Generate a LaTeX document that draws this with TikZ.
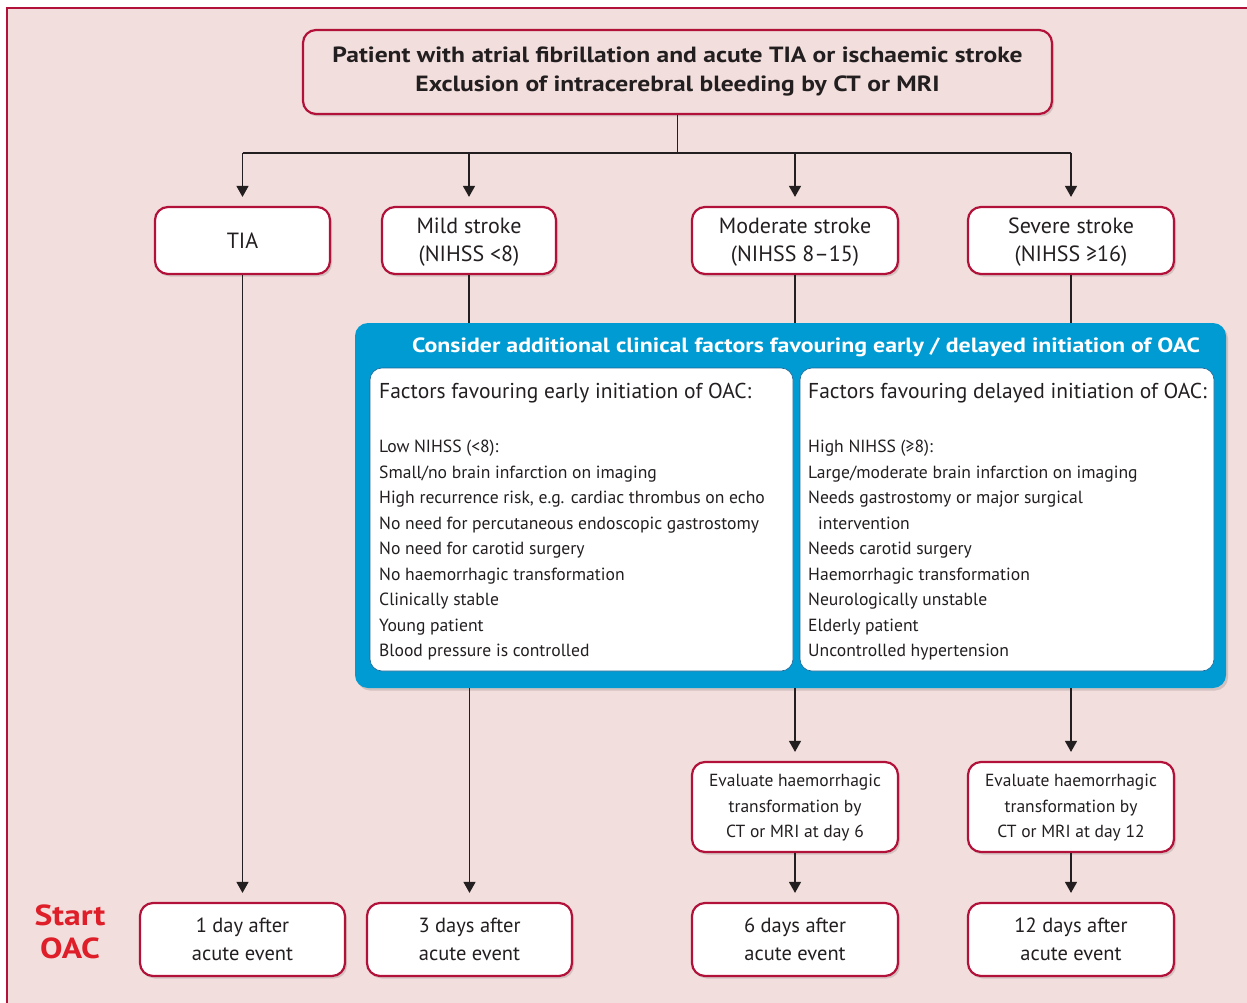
\documentclass[tikz,border=0pt]{standalone}
\usepackage{fontspec}
\setmainfont{PT Sans}
\newfontfamily\widebold[FakeStretch=1.16]{PT Sans}
\usetikzlibrary{shadows,arrows.meta}

\definecolor{bgpink}{RGB}{242,222,220}
\definecolor{crimson}{RGB}{178,18,58}
\definecolor{oacblue}{RGB}{0,155,210}
\definecolor{innerline}{RGB}{30,100,150}
\definecolor{ink}{RGB}{35,31,32}
\definecolor{startred}{RGB}{222,30,40}

\tikzset{
  softshadow/.style={drop shadow={shadow xshift=2pt, shadow yshift=-2.5pt, opacity=0.13, fill=black}},
  redbox/.style={draw=crimson, line width=2.2pt, rounded corners=13pt, fill=white,
    text=ink, align=center, inner sep=0pt, softshadow},
  inbox/.style={draw=innerline, line width=0.6pt, rounded corners=12pt, fill=white,
    inner sep=0pt},
  conn/.style={draw=ink, line width=1.3pt},
  arr/.style={conn, -{Triangle[length=11pt,width=12pt]}, shorten >=9pt},
  listtext/.style={text=ink, align=left, anchor=base west, inner sep=0pt,
    font=\fontsize{17.6}{25.5}\selectfont},
  headtext/.style={text=ink, anchor=base west, inner sep=0pt,
    font=\fontsize{21.5}{26}\selectfont},
  bigtext/.style={font=\fontsize{22}{28.5}\selectfont, text depth=1.5pt},
  daytext/.style={font=\fontsize{20.5}{28.5}\selectfont},
  evaltext/.style={font=\fontsize{17.5}{25.5}\selectfont, text depth=2pt},
}

\begin{document}
\begin{tikzpicture}[x=1pt, y=-1pt]
\useasboundingbox (0,0) rectangle (1247,1003);

% framed background panel
\fill[bgpink] (7,8) rectangle (1260,1015);
\draw[crimson, line width=1.5pt] (7,1015) -- (7,8) -- (1260,8);

% top box
\node[redbox, fill=bgpink, minimum width=749pt, minimum height=84pt,
      font=\fontsize{22}{29}\widebold\bfseries] (top) at (677.5,72)
  {Patient with atrial fibrillation and acute TIA or ischaemic stroke\\
   Exclusion of intracerebral bleeding by CT or MRI};

% severity boxes
\node[redbox, minimum width=175pt, minimum height=67pt, font=\fontsize{22}{28.5}\selectfont] (tia) at (242.5,240.5) {TIA};
\node[redbox, minimum width=174pt, minimum height=67pt, bigtext] (mild) at (469,240.5) {Mild stroke\\(NIHSS <8)};
\node[redbox, minimum width=206pt, minimum height=67pt, bigtext] (mod) at (795,240.5) {Moderate stroke\\(NIHSS 8–15)};
\node[redbox, minimum width=206pt, minimum height=67pt, bigtext] (sev) at (1071,240.5) {Severe stroke\\(NIHSS ≥16)};

% clinical factors panel
\node[fill=oacblue, rounded corners=13pt, minimum width=871pt, minimum height=365pt,
      inner sep=0pt, softshadow] (blue) at (790.5,505.5) {};
\node[text=white, font=\fontsize{20.6}{26}\widebold\bfseries, inner sep=0pt] (bluetitle) at (806,347)
  {Consider additional clinical factors favouring early / delayed initiation of OAC};
\node[inbox, minimum width=423pt, minimum height=303pt] (early) at (581.5,519.5) {};
\node[inbox, minimum width=414pt, minimum height=303pt] (late) at (1007,519.5) {};

\node[headtext] (earlyhead) at (379,398) {Factors favouring early initiation of OAC:};
% list nodes are anchored on the baseline of their last line
\node[listtext] (earlylist) at (379,656.5) {Low NIHSS (<8):\\
Small/no brain infarction on imaging\\
High recurrence risk, e.g. cardiac thrombus on echo\\
No need for percutaneous endoscopic gastrostomy\\
No need for carotid surgery\\
No haemorrhagic transformation\\
Clinically stable\\
Young patient\\
Blood pressure is controlled};

\node[headtext] (latehead) at (808,398) {Factors favouring delayed initiation of OAC:};
\node[listtext] (latelist) at (808,656.5) {High NIHSS (≥8):\\
Large/moderate brain infarction on imaging\\
Needs gastrostomy or major surgical\\
\hspace*{10pt}intervention\\
Needs carotid surgery\\
Haemorrhagic transformation\\
Neurologically unstable\\
Elderly patient\\
Uncontrolled hypertension};

% imaging check boxes
\node[redbox, minimum width=206pt, minimum height=90pt, evaltext] (eval6) at (795,807)
  {Evaluate haemorrhagic\\transformation by\\CT or MRI at day 6};
\node[redbox, minimum width=206pt, minimum height=90pt, evaltext] (eval12) at (1071,807)
  {Evaluate haemorrhagic\\transformation by\\CT or MRI at day 12};

% start of anticoagulation
\node[redbox, minimum width=205pt, minimum height=73pt, daytext] (d1) at (242.5,939.5) {1 day after\\acute event};
\node[redbox, minimum width=205pt, minimum height=73pt, daytext] (d3) at (469.5,939.5) {3 days after\\acute event};
\node[redbox, minimum width=206pt, minimum height=73pt, daytext] (d6) at (795,939.5) {6 days after\\acute event};
\node[redbox, minimum width=206pt, minimum height=73pt, daytext] (d12) at (1071,939.5) {12 days after\\acute event};

\node[text=startred, font=\fontsize{29}{33}\widebold\bfseries, align=center, inner sep=0pt] (start) at (70,932) {Start\\OAC};

% connectors
\coordinate (bus) at (0,153);
\draw[conn] (top.south) -- (top.south |- bus);
\draw[conn] (tia.north |- bus) -- (sev.north |- bus);
\draw[arr] (tia.north |- bus) -- (tia.north);
\draw[arr] (mild.north |- bus) -- (mild.north);
\draw[arr] (mod.north |- bus) -- (mod.north);
\draw[arr] (sev.north |- bus) -- (sev.north);

\draw[arr] (tia.south) -- (d1.north);
\draw[conn] (mild.south) -- (mild.south |- blue.north);
\draw[conn] (mod.south) -- (mod.south |- blue.north);
\draw[conn] (sev.south) -- (sev.south |- blue.north);
\draw[arr] (d3.north |- blue.south) -- (d3.north);
\draw[arr] (eval6.north |- blue.south) -- (eval6.north);
\draw[arr] (eval12.north |- blue.south) -- (eval12.north);
\draw[arr] (eval6.south) -- (d6.north);
\draw[arr] (eval12.south) -- (d12.north);
\end{tikzpicture}
\end{document}
